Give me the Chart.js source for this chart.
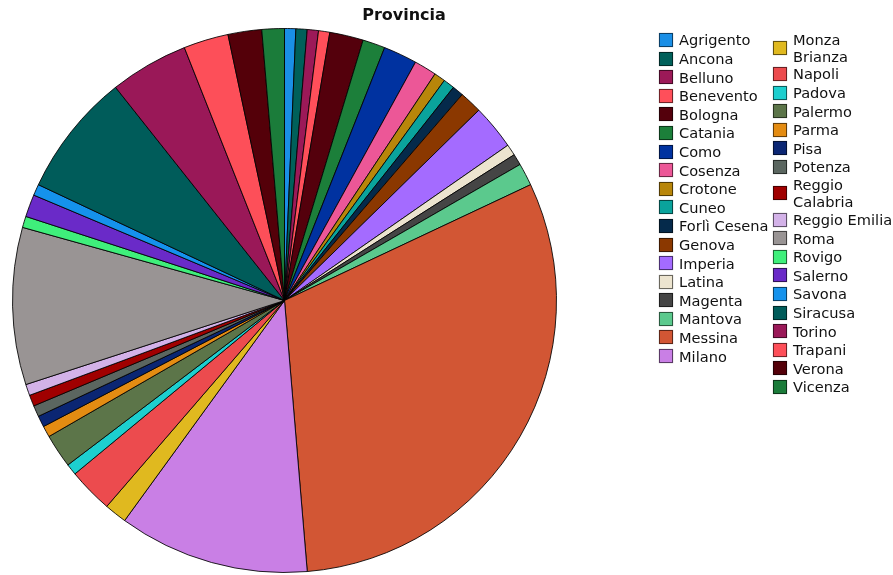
<!DOCTYPE html>
<html>
<head>
<meta charset="utf-8">
<script src="https://cdn.jsdelivr.net/npm/chart.js@4"></script>
<style>
    body { margin: 0; background: #fff; }
    #wrap { position: relative; width: 893px; height: 575px; font-family: "DejaVu Sans", sans-serif; }
    #title {
        position: absolute; top: 5px; left: 304px; width: 200px;
        text-align: center; font-weight: bold; font-size: 16px; color: #111;
    }
    .col { position: absolute; top: 30.7px; }
    .item { display: flex; align-items: center; min-height: 18.6px; font-size: 14.6px; color: #111; }
    .item span.sw {
        flex: none; width: 12px; height: 12px; margin-right: 6px;
        border: 1px solid rgba(0, 0, 0, 0.55);
        box-shadow: 0 0 1px rgba(0, 0, 0, 0.35);
    }
    .item span.txt { line-height: 17px; }
</style>
</head>
<body>
<div id="wrap">
    <canvas id="myChart" width="893" height="575"></canvas>
    <div id="title">Provincia</div>
    <div class="col" id="legend1" style="left:659px"></div>
    <div class="col" id="legend2" style="left:773px"></div>
</div>
<script>
const provinces = [
    "Agrigento", "Ancona", "Belluno", "Benevento", "Bologna", "Catania", "Como", "Cosenza",
    "Crotone", "Cuneo", "Forlì Cesena", "Genova", "Imperia", "Latina", "Magenta", "Mantova",
    "Messina", "Milano", "Monza Brianza", "Napoli", "Padova", "Palermo", "Parma", "Pisa",
    "Potenza", "Reggio Calabria", "Reggio Emilia", "Roma", "Rovigo", "Salerno", "Savona",
    "Siracusa", "Torino", "Trapani", "Verona", "Vicenza"
];

const counts = [
    1, 1, 1, 1, 3, 2, 3, 2,
    1, 1, 1, 2, 4, 1, 1, 2,
    46, 17, 2, 4, 1, 3, 1, 1,
    1, 1, 1, 14, 1, 2, 1,
    11, 7, 4, 3, 2
];

const colors = [
    "#1a8fe6", "#00605a", "#9c1958", "#ff4f5a", "#54000c", "#1c7f3a", "#0032a0", "#ec5797",
    "#b8860a", "#0aa39c", "#052a4b", "#8b3800", "#a46bff", "#ece4cf", "#454545", "#5bc98d",
    "#d25634", "#c97fe5", "#e0b91f", "#ec4b4e", "#1dcfcf", "#5c7549", "#e48c12", "#0b2673",
    "#5b6660", "#a00000", "#d3b2e8", "#999494", "#3fef7b", "#6a2ac8", "#1592ec",
    "#005c5a", "#9a1858", "#fd4f59", "#540009", "#1b7c3a"
];

// legend: first 18 provinces left column, the rest right column
function buildLegend() {
    provinces.forEach(function (name, i) {
        const col = document.getElementById(i < 18 ? "legend1" : "legend2");
        const item = document.createElement("div");
        item.className = "item";
        const sw = document.createElement("span");
        sw.className = "sw";
        sw.style.background = colors[i];
        const txt = document.createElement("span");
        txt.className = "txt";
        txt.style.maxWidth = (i < 18 ? 95 : 101) + "px";
        txt.textContent = name;
        item.appendChild(sw);
        item.appendChild(txt);
        col.appendChild(item);
    });
}

document.addEventListener("DOMContentLoaded", function () {
    buildLegend();

    const data = {
        labels: provinces,
        datasets: [{
            label: "Provincia",
            data: counts,
            backgroundColor: colors,
            borderColor: "rgba(0, 0, 0, 0.85)",
            borderWidth: 1
        }]
    };

    const config = {
        type: 'pie',
        data: data,
        options: {
            responsive: false,
            animation: false,
            layout: {
                padding: { top: 28, bottom: 2, left: 12, right: 336 }
            },
            plugins: {
                legend: { display: false },
                title: { display: false },
                tooltip: { enabled: false }
            }
        }
    };

    new Chart(document.getElementById('myChart'), config);
});
</script>
</body>
</html>
